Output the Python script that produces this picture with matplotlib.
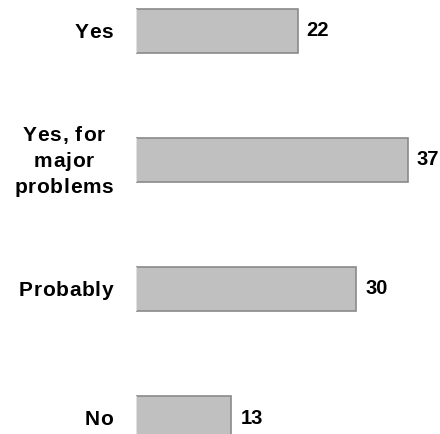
import matplotlib.pyplot as plt
from matplotlib.font_manager import FontProperties, findfont, get_font
from matplotlib.transforms import IdentityTransform

# survey answers, top to bottom
answers = ["Yes", "Yes, for\nmajor\nproblems", "Probably", "No"]
percents = [22, 37, 30, 13]

plt.rcParams['font.family'] = ['Liberation Sans', 'DejaVu Sans']

DPI = 100
fig = plt.figure(figsize=(4.4, 4.34), dpi=DPI)
ax = fig.add_axes([136 / 440, 0, 304 / 440, 1])

pos = list(range(len(answers)))
bar_h = 0.34
ax.barh(pos, percents, height=bar_h, color='#c0c0c0', edgecolor='#8a8a8a', linewidth=1.2)
# lighter left side of each bar
ax.vlines([0] * len(pos), [p - bar_h / 2 for p in pos], [p + bar_h / 2 for p in pos],
          color='#e4e4e4', linewidth=1.4)

for i, v in enumerate(percents):
    ax.text(v + 1.2, i, str(v), ha='left', va='center', fontsize=14.5, fontweight='bold')

ax.set_xlim(0, 41.4)
ax.set_ylim(3.124, -0.24)
ax.axis('off')

# category labels are letter-spaced, so lay them out glyph by glyph (pixels)
fsize = 15
fp = FontProperties(family='Liberation Sans', weight='bold', size=fsize)
font = get_font(findfont(fp))
font.set_size(fsize, DPI)
track = 0.7
line_gap = 26


def advance(ch):
    return font.load_char(ord(ch)).linearHoriAdvance / 65536


def line_width(s):
    return sum(advance(c) for c in s) + track * (len(s) - 1)


label_right = 113
for i, lab in enumerate(answers):
    lines = lab.split("\n")
    block_w = max(line_width(s) for s in lines)
    cy = ax.transData.transform((0, i))[1]
    n = len(lines)
    for k, s in enumerate(lines):
        y = cy - 7 - (k - (n - 1) / 2) * line_gap
        x = label_right - block_w + (block_w - line_width(s)) / 2
        for c in s:
            if c != " ":
                fig.text(x, y, c, transform=IdentityTransform(), fontproperties=fp,
                         ha='left', va='baseline')
            x += advance(c) + track

fig.savefig('out.png', dpi=DPI)
